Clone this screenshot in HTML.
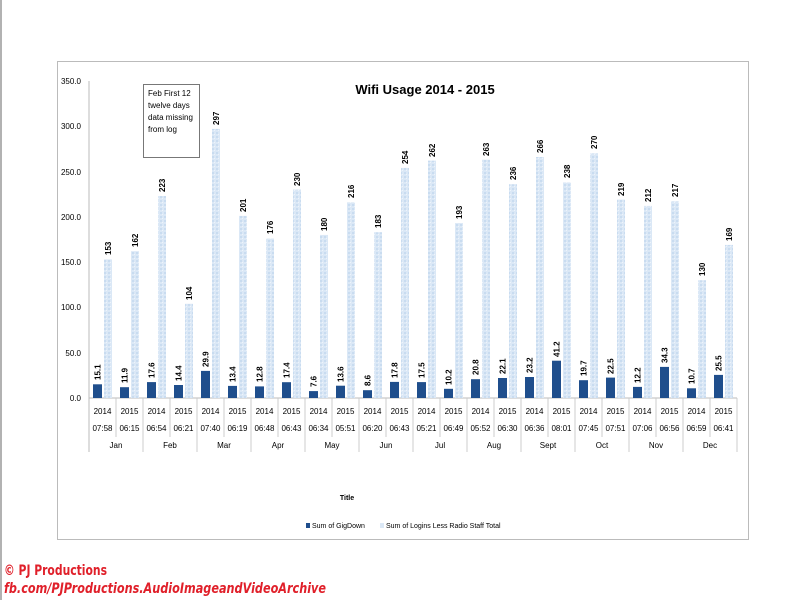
<!DOCTYPE html>
<html><head><meta charset="utf-8"><style>
html,body{margin:0;padding:0;background:#fff;}
svg{display:block;}
.v{font-size:8px;font-weight:bold;}
.c{font-size:8px;text-anchor:middle;}
</style></head><body>
<svg width="800" height="600" xmlns="http://www.w3.org/2000/svg" font-family="Liberation Sans, sans-serif">
<defs>
<pattern id="lp" width="4" height="4" patternUnits="userSpaceOnUse">
<rect width="4" height="4" fill="#dbe8f6"/><rect x="0" y="0" width="2" height="2" fill="#c9dcf0"/><rect x="2" y="2" width="1" height="1" fill="#eef4fb"/>
</pattern>
</defs>
<rect x="0" y="0" width="800" height="600" fill="#fff"/>
<line x1="1" y1="0" x2="1" y2="600" stroke="#999" stroke-width="1.5"/>
<rect x="57.5" y="61.5" width="691" height="478" fill="#fff" stroke="#bbb" stroke-width="1"/>
<text x="425" y="94" text-anchor="middle" font-size="13" font-weight="bold">Wifi Usage 2014 - 2015</text>
<g font-size="8" text-anchor="end" fill="#000">
<text x="81" y="84">350.0</text><text x="81" y="129">300.0</text><text x="81" y="175">250.0</text><text x="81" y="220">200.0</text><text x="81" y="265">150.0</text><text x="81" y="310">100.0</text><text x="81" y="356">50.0</text><text x="81" y="401">0.0</text>
</g>
<line x1="89" y1="81" x2="89" y2="452" stroke="#bbb"/>
<line x1="89" y1="398" x2="737" y2="398" stroke="#bbb"/>
<rect x="143.5" y="84.5" width="56" height="73" fill="#fff" stroke="#777"/>
<g font-size="8" fill="#000">
<text x="148" y="96">Feb First 12</text><text x="148" y="108">twelve days</text><text x="148" y="120">data missing</text><text x="148" y="132">from log</text>
</g>
<g fill="url(#lp)">
<rect x="104" y="259.4" width="8" height="138.6"/>
<rect x="131" y="251.2" width="8" height="146.8"/>
<rect x="158" y="196.0" width="8" height="202.0"/>
<rect x="185" y="303.8" width="8" height="94.2"/>
<rect x="212" y="128.9" width="8" height="269.1"/>
<rect x="239" y="215.9" width="8" height="182.1"/>
<rect x="266" y="238.5" width="8" height="159.5"/>
<rect x="293" y="189.6" width="8" height="208.4"/>
<rect x="320" y="234.9" width="8" height="163.1"/>
<rect x="347" y="202.3" width="8" height="195.7"/>
<rect x="374" y="232.2" width="8" height="165.8"/>
<rect x="401" y="167.9" width="8" height="230.1"/>
<rect x="428" y="160.6" width="8" height="237.4"/>
<rect x="455" y="223.1" width="8" height="174.9"/>
<rect x="482" y="159.7" width="8" height="238.3"/>
<rect x="509" y="184.2" width="8" height="213.8"/>
<rect x="536" y="157.0" width="8" height="241.0"/>
<rect x="563" y="182.4" width="8" height="215.6"/>
<rect x="590" y="153.4" width="8" height="244.6"/>
<rect x="617" y="199.6" width="8" height="198.4"/>
<rect x="644" y="205.9" width="8" height="192.1"/>
<rect x="671" y="201.4" width="8" height="196.6"/>
<rect x="698" y="280.2" width="8" height="117.8"/>
<rect x="725" y="244.9" width="8" height="153.1"/>
</g>
<g fill="#1f4e8c">
<rect x="93" y="384.3" width="9" height="13.7"/>
<rect x="120" y="387.2" width="9" height="10.8"/>
<rect x="147" y="382.1" width="9" height="15.9"/>
<rect x="174" y="385.0" width="9" height="13.0"/>
<rect x="201" y="370.9" width="9" height="27.1"/>
<rect x="228" y="385.9" width="9" height="12.1"/>
<rect x="255" y="386.4" width="9" height="11.6"/>
<rect x="282" y="382.2" width="9" height="15.8"/>
<rect x="309" y="391.1" width="9" height="6.9"/>
<rect x="336" y="385.7" width="9" height="12.3"/>
<rect x="363" y="390.2" width="9" height="7.8"/>
<rect x="390" y="381.9" width="9" height="16.1"/>
<rect x="417" y="382.1" width="9" height="15.9"/>
<rect x="444" y="388.8" width="9" height="9.2"/>
<rect x="471" y="379.2" width="9" height="18.8"/>
<rect x="498" y="378.0" width="9" height="20.0"/>
<rect x="525" y="377.0" width="9" height="21.0"/>
<rect x="552" y="360.7" width="9" height="37.3"/>
<rect x="579" y="380.2" width="9" height="17.8"/>
<rect x="606" y="377.6" width="9" height="20.4"/>
<rect x="633" y="386.9" width="9" height="11.1"/>
<rect x="660" y="366.9" width="9" height="31.1"/>
<rect x="687" y="388.3" width="9" height="9.7"/>
<rect x="714" y="374.9" width="9" height="23.1"/>
</g>
<g class="v">
<text class="v" transform="translate(111,255) rotate(-90)">153</text>
<text class="v" transform="translate(138,247) rotate(-90)">162</text>
<text class="v" transform="translate(165,192) rotate(-90)">223</text>
<text class="v" transform="translate(192,300) rotate(-90)">104</text>
<text class="v" transform="translate(219,125) rotate(-90)">297</text>
<text class="v" transform="translate(246,212) rotate(-90)">201</text>
<text class="v" transform="translate(273,234) rotate(-90)">176</text>
<text class="v" transform="translate(300,186) rotate(-90)">230</text>
<text class="v" transform="translate(327,231) rotate(-90)">180</text>
<text class="v" transform="translate(354,198) rotate(-90)">216</text>
<text class="v" transform="translate(381,228) rotate(-90)">183</text>
<text class="v" transform="translate(408,164) rotate(-90)">254</text>
<text class="v" transform="translate(435,157) rotate(-90)">262</text>
<text class="v" transform="translate(462,219) rotate(-90)">193</text>
<text class="v" transform="translate(489,156) rotate(-90)">263</text>
<text class="v" transform="translate(516,180) rotate(-90)">236</text>
<text class="v" transform="translate(543,153) rotate(-90)">266</text>
<text class="v" transform="translate(570,178) rotate(-90)">238</text>
<text class="v" transform="translate(597,149) rotate(-90)">270</text>
<text class="v" transform="translate(624,196) rotate(-90)">219</text>
<text class="v" transform="translate(651,202) rotate(-90)">212</text>
<text class="v" transform="translate(678,197) rotate(-90)">217</text>
<text class="v" transform="translate(705,276) rotate(-90)">130</text>
<text class="v" transform="translate(732,241) rotate(-90)">169</text>
<text class="v" transform="translate(100.5,380) rotate(-90)">15.1</text>
<text class="v" transform="translate(127.5,383) rotate(-90)">11.9</text>
<text class="v" transform="translate(154.5,378) rotate(-90)">17.6</text>
<text class="v" transform="translate(181.5,381) rotate(-90)">14.4</text>
<text class="v" transform="translate(208.5,367) rotate(-90)">29.9</text>
<text class="v" transform="translate(235.5,382) rotate(-90)">13.4</text>
<text class="v" transform="translate(262.5,382) rotate(-90)">12.8</text>
<text class="v" transform="translate(289.5,378) rotate(-90)">17.4</text>
<text class="v" transform="translate(316.5,387) rotate(-90)">7.6</text>
<text class="v" transform="translate(343.5,382) rotate(-90)">13.6</text>
<text class="v" transform="translate(370.5,386) rotate(-90)">8.6</text>
<text class="v" transform="translate(397.5,378) rotate(-90)">17.8</text>
<text class="v" transform="translate(424.5,378) rotate(-90)">17.5</text>
<text class="v" transform="translate(451.5,385) rotate(-90)">10.2</text>
<text class="v" transform="translate(478.5,375) rotate(-90)">20.8</text>
<text class="v" transform="translate(505.5,374) rotate(-90)">22.1</text>
<text class="v" transform="translate(532.5,373) rotate(-90)">23.2</text>
<text class="v" transform="translate(559.5,357) rotate(-90)">41.2</text>
<text class="v" transform="translate(586.5,376) rotate(-90)">19.7</text>
<text class="v" transform="translate(613.5,374) rotate(-90)">22.5</text>
<text class="v" transform="translate(640.5,383) rotate(-90)">12.2</text>
<text class="v" transform="translate(667.5,363) rotate(-90)">34.3</text>
<text class="v" transform="translate(694.5,384) rotate(-90)">10.7</text>
<text class="v" transform="translate(721.5,371) rotate(-90)">25.5</text>
</g>
<g stroke="#ccc">
<line x1="116" y1="398" x2="116" y2="437"/><line x1="143" y1="398" x2="143" y2="452"/>
<line x1="170" y1="398" x2="170" y2="437"/><line x1="197" y1="398" x2="197" y2="452"/>
<line x1="224" y1="398" x2="224" y2="437"/><line x1="251" y1="398" x2="251" y2="452"/>
<line x1="278" y1="398" x2="278" y2="437"/><line x1="305" y1="398" x2="305" y2="452"/>
<line x1="332" y1="398" x2="332" y2="437"/><line x1="359" y1="398" x2="359" y2="452"/>
<line x1="386" y1="398" x2="386" y2="437"/><line x1="413" y1="398" x2="413" y2="452"/>
<line x1="440" y1="398" x2="440" y2="437"/><line x1="467" y1="398" x2="467" y2="452"/>
<line x1="494" y1="398" x2="494" y2="437"/><line x1="521" y1="398" x2="521" y2="452"/>
<line x1="548" y1="398" x2="548" y2="437"/><line x1="575" y1="398" x2="575" y2="452"/>
<line x1="602" y1="398" x2="602" y2="437"/><line x1="629" y1="398" x2="629" y2="452"/>
<line x1="656" y1="398" x2="656" y2="437"/><line x1="683" y1="398" x2="683" y2="452"/>
<line x1="710" y1="398" x2="710" y2="437"/><line x1="737" y1="398" x2="737" y2="452"/>
</g>
<g class="c">
<text class="c" x="102.5" y="414">2014</text><text class="c" x="129.5" y="414">2015</text><text class="c" x="156.5" y="414">2014</text><text class="c" x="183.5" y="414">2015</text><text class="c" x="210.5" y="414">2014</text><text class="c" x="237.5" y="414">2015</text><text class="c" x="264.5" y="414">2014</text><text class="c" x="291.5" y="414">2015</text><text class="c" x="318.5" y="414">2014</text><text class="c" x="345.5" y="414">2015</text><text class="c" x="372.5" y="414">2014</text><text class="c" x="399.5" y="414">2015</text><text class="c" x="426.5" y="414">2014</text><text class="c" x="453.5" y="414">2015</text><text class="c" x="480.5" y="414">2014</text><text class="c" x="507.5" y="414">2015</text><text class="c" x="534.5" y="414">2014</text><text class="c" x="561.5" y="414">2015</text><text class="c" x="588.5" y="414">2014</text><text class="c" x="615.5" y="414">2015</text><text class="c" x="642.5" y="414">2014</text><text class="c" x="669.5" y="414">2015</text><text class="c" x="696.5" y="414">2014</text><text class="c" x="723.5" y="414">2015</text>
<text class="c" x="102.5" y="431">07:58</text><text class="c" x="129.5" y="431">06:15</text><text class="c" x="156.5" y="431">06:54</text><text class="c" x="183.5" y="431">06:21</text><text class="c" x="210.5" y="431">07:40</text><text class="c" x="237.5" y="431">06:19</text><text class="c" x="264.5" y="431">06:48</text><text class="c" x="291.5" y="431">06:43</text><text class="c" x="318.5" y="431">06:34</text><text class="c" x="345.5" y="431">05:51</text><text class="c" x="372.5" y="431">06:20</text><text class="c" x="399.5" y="431">06:43</text><text class="c" x="426.5" y="431">05:21</text><text class="c" x="453.5" y="431">06:49</text><text class="c" x="480.5" y="431">05:52</text><text class="c" x="507.5" y="431">06:30</text><text class="c" x="534.5" y="431">06:36</text><text class="c" x="561.5" y="431">08:01</text><text class="c" x="588.5" y="431">07:45</text><text class="c" x="615.5" y="431">07:51</text><text class="c" x="642.5" y="431">07:06</text><text class="c" x="669.5" y="431">06:56</text><text class="c" x="696.5" y="431">06:59</text><text class="c" x="723.5" y="431">06:41</text>
<text class="c" x="116" y="448">Jan</text><text class="c" x="170" y="448">Feb</text><text class="c" x="224" y="448">Mar</text><text class="c" x="278" y="448">Apr</text><text class="c" x="332" y="448">May</text><text class="c" x="386" y="448">Jun</text><text class="c" x="440" y="448">Jul</text><text class="c" x="494" y="448">Aug</text><text class="c" x="548" y="448">Sept</text><text class="c" x="602" y="448">Oct</text><text class="c" x="656" y="448">Nov</text><text class="c" x="710" y="448">Dec</text>
</g>
<text x="347" y="500" font-size="7" font-weight="bold" text-anchor="middle">Title</text>
<rect x="306" y="523" width="4" height="5" fill="#1f4e8c"/>
<text x="312" y="528" font-size="7">Sum of GigDown</text>
<rect x="380" y="523" width="4" height="5" fill="#dbe8f6"/>
<text x="386" y="528" font-size="7">Sum of Logins Less Radio Staff Total</text>
<text x="4" y="575" font-size="14" fill="#e0202a" font-weight="bold" textLength="103" lengthAdjust="spacingAndGlyphs" font-family="DejaVu Sans, sans-serif">© PJ Productions</text>
<text x="4" y="593" font-size="14" fill="#e0202a" font-style="italic" font-weight="bold" textLength="322" lengthAdjust="spacingAndGlyphs" font-family="DejaVu Sans, sans-serif">fb.com/PJProductions.AudioImageandVideoArchive</text>
</svg>
</body></html>
